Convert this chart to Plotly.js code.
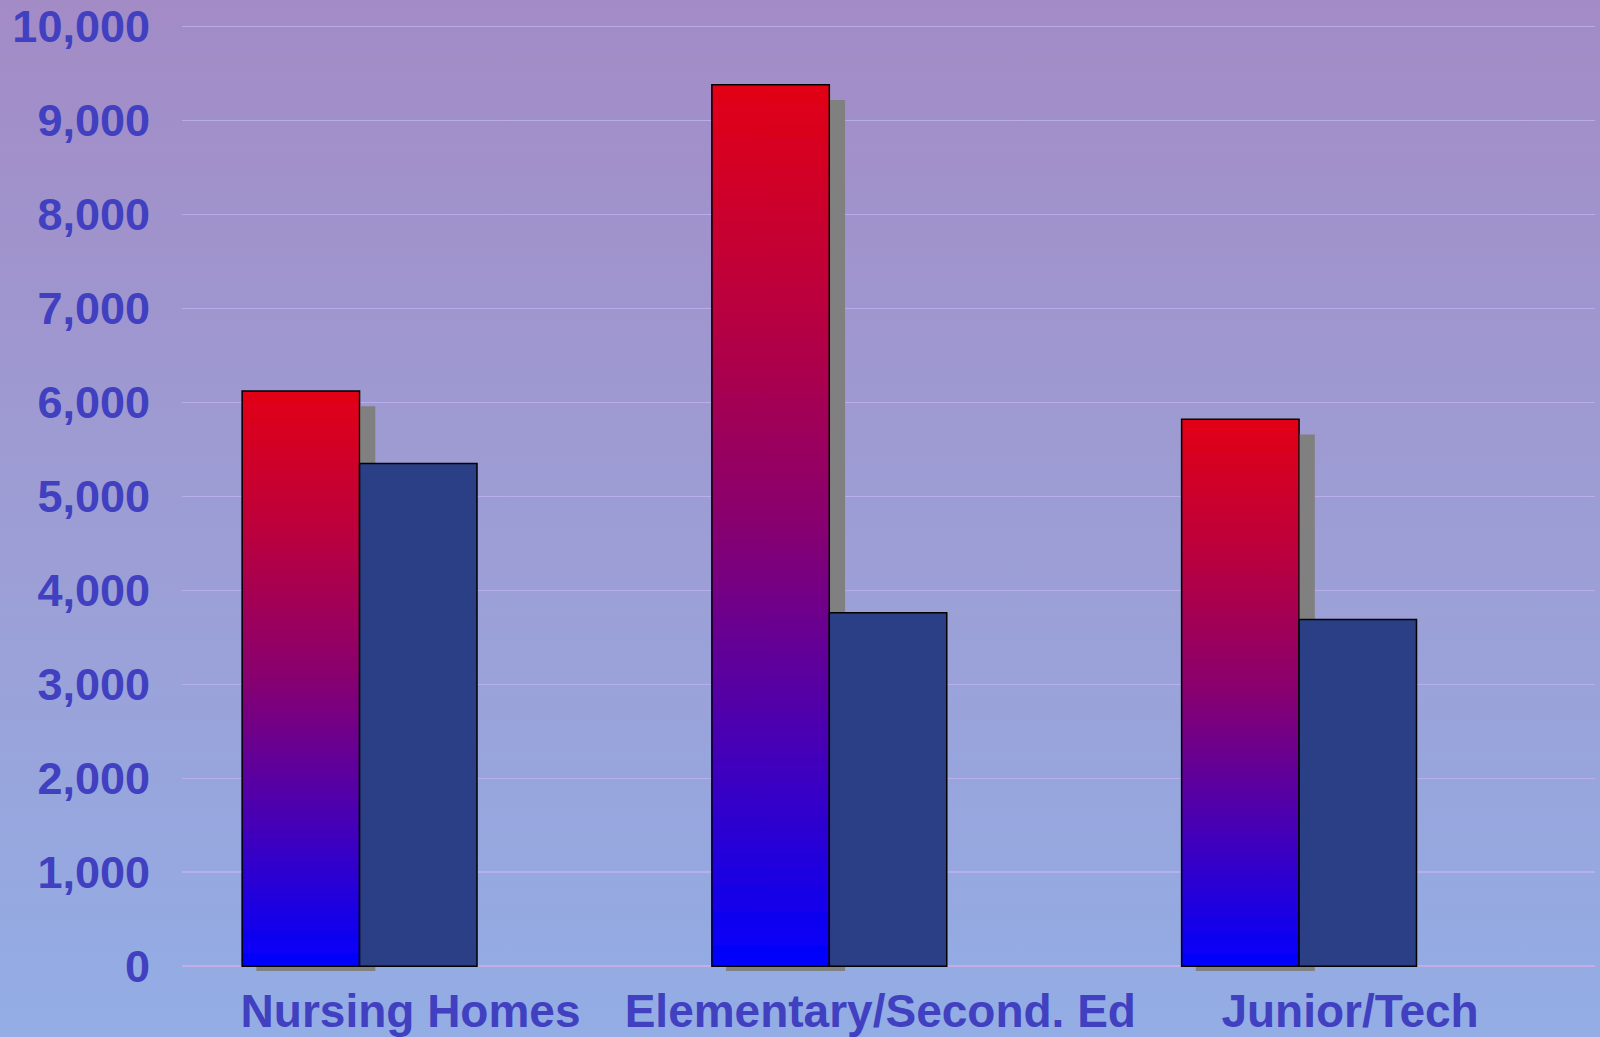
<!DOCTYPE html>
<html>
<head>
<meta charset="utf-8">
<script src="https://cdn.plot.ly/plotly-3.0.1.min.js"></script>
<style>
  html, body { margin: 0; padding: 0; }
  body { width: 1600px; height: 1037px; overflow: hidden;
         background: linear-gradient(to bottom, #a38bc6 0%, #9c9fd6 55%, #93ade5 100%); }
  #chart { width: 1600px; height: 1037px; }
</style>
</head>
<body>
<div id="chart"></div>
<script>
// ---- data ----
const categories = ["Nursing Homes", "Elementary/Second. Ed", "Junior/Tech"];
const seriesA = [6120, 9380, 5820];   // red gradient bars
const seriesB = [5350, 3760, 3690];   // dark blue bars
const yTickValues = [0, 1000, 2000, 3000, 4000, 5000, 6000, 7000, 8000, 9000, 10000];

const xFont = { family: "Liberation Sans, Arial, sans-serif", size: 46, color: "#4040c0", weight: "bold" };
const yFont = { family: "Liberation Sans, Arial, sans-serif", size: 45, color: "#4040c0", weight: "bold" };

const traces = [
  { type: "bar", x: categories, y: seriesA, name: "A",
    marker: { color: "rgb(224,0,24)", line: { color: "#000000", width: 1.5 } },
    hoverinfo: "skip" },
  { type: "bar", x: categories, y: seriesB, name: "B",
    marker: { color: "#2a3f86", line: { color: "#000000", width: 1.5 } },
    hoverinfo: "skip" }
];

const layout = {
  width: 1600, height: 1037,
  margin: { l: 182, r: 5, t: 25, b: 52, pad: 0 },
  paper_bgcolor: "rgba(0,0,0,0)",
  plot_bgcolor: "rgba(0,0,0,0)",
  showlegend: false,
  barmode: "group", bargap: 0.5, bargroupgap: 0,
  xaxis: {
    type: "category", range: [-0.378, 2.63],
    showgrid: false, zeroline: false, showline: false, ticks: "",
    tickfont: xFont, ticklabelshift: 51, ticklabelstandoff: -5
  },
  yaxis: {
    range: [-200, 10015], tickvals: yTickValues, tickformat: ",",
    showgrid: true, gridcolor: "rgba(188,178,238,0.85)", gridwidth: 1.5,
    zeroline: true, zerolinecolor: "rgba(200,172,232,0.95)", zerolinewidth: 2,
    showline: false, ticks: "",
    tickfont: yFont, ticklabelstandoff: 31
  }
};

Plotly.newPlot("chart", traces, layout, { staticPlot: true }).then(function (gd) {
  const svgNS = "http://www.w3.org/2000/svg";
  const defs = gd.querySelector(".main-svg defs");
  // vertical gradient for the red bars
  const grad = document.createElementNS(svgNS, "linearGradient");
  grad.setAttribute("id", "redBlueGrad");
  grad.setAttribute("x1", "0"); grad.setAttribute("y1", "0");
  grad.setAttribute("x2", "0"); grad.setAttribute("y2", "1");
  [["0%", "rgb(226,0,22)"], ["25%", "rgb(186,0,62)"], ["50%", "rgb(135,0,112)"],
   ["75%", "rgb(70,0,182)"], ["100%", "rgb(0,0,255)"]].forEach(function (s) {
    const st = document.createElementNS(svgNS, "stop");
    st.setAttribute("offset", s[0]); st.setAttribute("stop-color", s[1]);
    grad.appendChild(st);
  });
  defs.appendChild(grad);
  // hard shadow: shifted 15px right, top 15px lower, bottom 4px lower
  const f = document.createElementNS(svgNS, "filter");
  f.setAttribute("id", "barShadow");
  f.setAttribute("x", "-0.3"); f.setAttribute("y", "-0.3");
  f.setAttribute("width", "1.8"); f.setAttribute("height", "1.8");
  const morph = document.createElementNS(svgNS, "feMorphology");
  morph.setAttribute("in", "SourceAlpha"); morph.setAttribute("operator", "erode");
  morph.setAttribute("radius", "0 5.5"); morph.setAttribute("result", "er");
  const off = document.createElementNS(svgNS, "feOffset");
  off.setAttribute("in", "er"); off.setAttribute("dx", "15"); off.setAttribute("dy", "9.5");
  off.setAttribute("result", "off");
  const flood = document.createElementNS(svgNS, "feFlood");
  flood.setAttribute("flood-color", "#808080"); flood.setAttribute("result", "fl");
  const comp = document.createElementNS(svgNS, "feComposite");
  comp.setAttribute("in", "fl"); comp.setAttribute("in2", "off");
  comp.setAttribute("operator", "in"); comp.setAttribute("result", "sh");
  const merge = document.createElementNS(svgNS, "feMerge");
  ["sh", "SourceGraphic"].forEach(function (n) {
    const mn = document.createElementNS(svgNS, "feMergeNode");
    mn.setAttribute("in", n); merge.appendChild(mn);
  });
  [morph, off, flood, comp, merge].forEach(function (el) { f.appendChild(el); });
  defs.appendChild(f);

  const barTraces = gd.querySelectorAll(".barlayer .trace");
  barTraces[0].querySelectorAll(".point path").forEach(function (p) {
    p.style.fill = "url(#redBlueGrad)";
    p.setAttribute("filter", "url(#barShadow)");
  });
});
</script>
</body>
</html>
